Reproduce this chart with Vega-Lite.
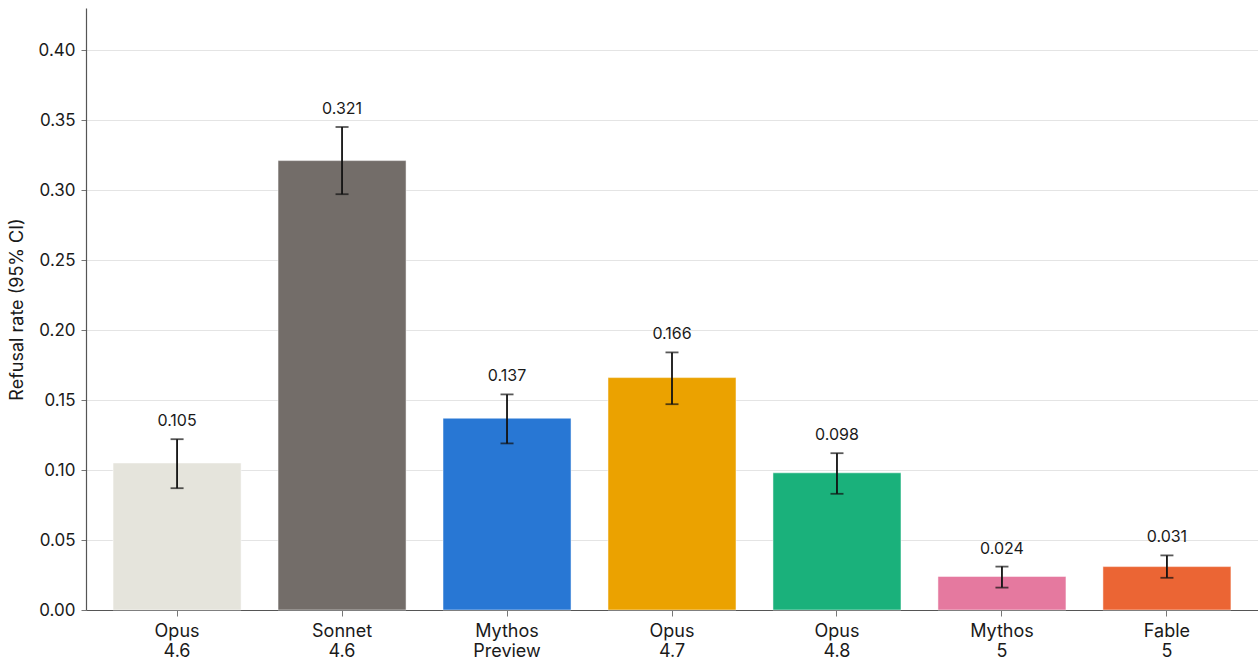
{
  "$schema": "https://vega.github.io/schema/vega-lite/v6.json",
  "width": 1172,
  "height": 602,
  "autosize": {"type": "none"},
  "padding": {"left": 86, "top": 8, "right": 0, "bottom": 50},
  "background": "white",
  "config": {
    "font": "Inter",
    "view": {"stroke": null},
    "axis": {"labelColor": "#1a1a1a", "titleColor": "#1a1a1a"}
  },
  "data": {
    "values": [
      {"model": "Opus 4.6", "rate": 0.105, "lo": 0.087, "hi": 0.122},
      {"model": "Sonnet 4.6", "rate": 0.321, "lo": 0.297, "hi": 0.345},
      {"model": "Mythos Preview", "rate": 0.137, "lo": 0.119, "hi": 0.154},
      {"model": "Opus 4.7", "rate": 0.166, "lo": 0.147, "hi": 0.184},
      {"model": "Opus 4.8", "rate": 0.098, "lo": 0.083, "hi": 0.112},
      {"model": "Mythos 5", "rate": 0.024, "lo": 0.016, "hi": 0.031},
      {"model": "Fable 5", "rate": 0.031, "lo": 0.023, "hi": 0.039}
    ]
  },
  "encoding": {
    "x": {
      "field": "model",
      "type": "nominal",
      "sort": null,
      "scale": {"paddingInner": 0.224, "paddingOuter": 0.164},
      "axis": {
        "title": null,
        "labelAngle": 0,
        "labelFontSize": 18,
        "labelLineHeight": 20,
        "labelPadding": 6,
        "labelExpr": "split(datum.label, ' ')",
        "tickSize": 6,
        "tickColor": "#777",
        "domainColor": "#555",
        "domainWidth": 1.2
      }
    }
  },
  "layer": [
    {
      "mark": {"type": "bar", "stroke": "white", "strokeWidth": 0.5},
      "encoding": {
        "y": {
          "field": "rate",
          "type": "quantitative",
          "scale": {"domain": [0, 0.43], "nice": false},
          "axis": {
            "title": "Refusal rate (95% CI)",
            "titleFontSize": 18,
            "titleFontWeight": "normal",
            "titlePadding": 12,
            "values": [0, 0.05, 0.1, 0.15, 0.2, 0.25, 0.3, 0.35, 0.4],
            "format": ".2f",
            "labelFontSize": 17,
            "labelPadding": 6,
            "tickSize": 5,
            "tickColor": "#777",
            "domainColor": "#555",
            "domainWidth": 1.2,
            "gridColor": "#e4e4e4",
            "gridWidth": 1
          }
        },
        "color": {
          "field": "model",
          "type": "nominal",
          "legend": null,
          "scale": {
            "domain": ["Opus 4.6", "Sonnet 4.6", "Mythos Preview", "Opus 4.7", "Opus 4.8", "Mythos 5", "Fable 5"],
            "range": ["#e5e4dc", "#736d69", "#2877d4", "#eba200", "#1ab17b", "#e5799f", "#eb6534"]
          }
        }
      }
    },
    {
      "mark": {"type": "rule", "color": "#111", "strokeWidth": 1.8},
      "encoding": {
        "y": {"field": "lo", "type": "quantitative"},
        "y2": {"field": "hi"}
      }
    },
    {
      "mark": {"type": "tick", "color": "#111", "thickness": 1.8, "size": 13},
      "encoding": {"y": {"field": "lo", "type": "quantitative"}}
    },
    {
      "mark": {"type": "tick", "color": "#111", "thickness": 1.8, "size": 13},
      "encoding": {"y": {"field": "hi", "type": "quantitative"}}
    },
    {
      "mark": {"type": "text", "dy": -13, "baseline": "alphabetic", "fontSize": 16, "color": "#1a1a1a"},
      "encoding": {
        "y": {"field": "hi", "type": "quantitative"},
        "text": {"field": "rate", "type": "quantitative", "format": ".3f"}
      }
    }
  ]
}
